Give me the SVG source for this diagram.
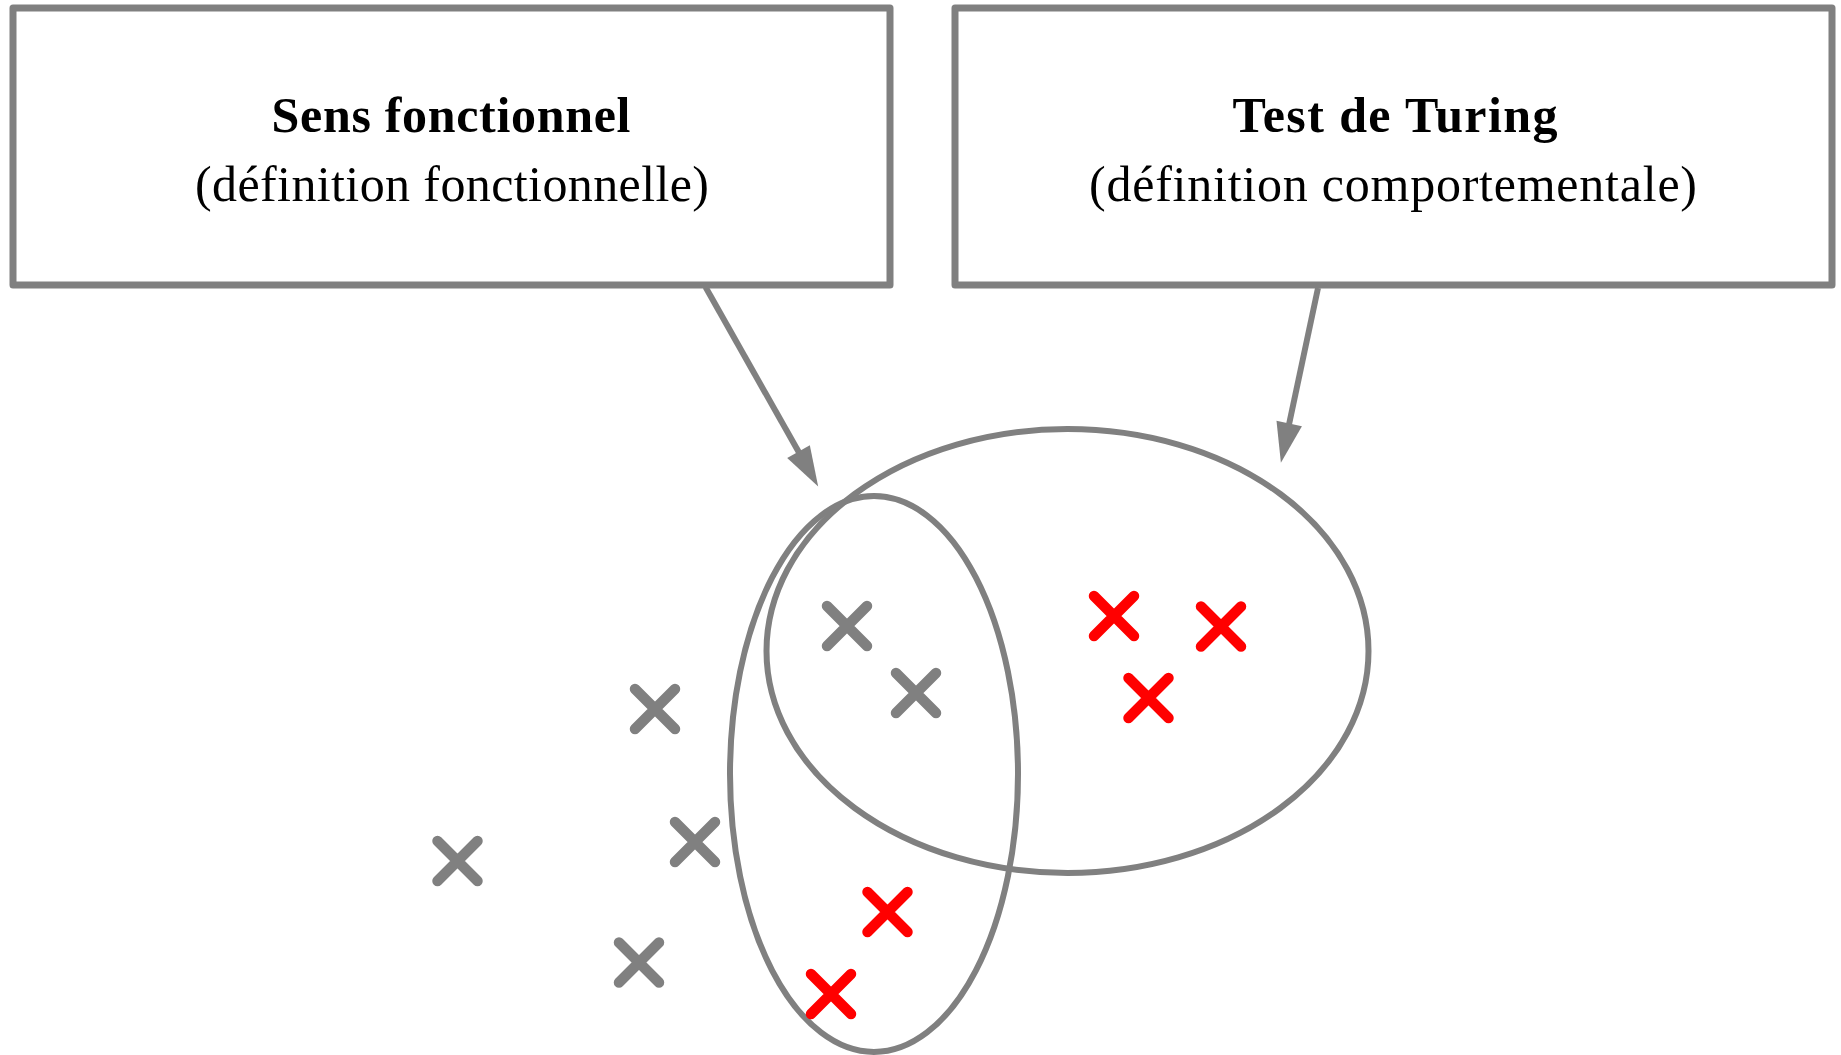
<svg xmlns="http://www.w3.org/2000/svg" width="1841" height="1055" viewBox="0 0 1841 1055">
<style>
.box{fill:#ffffff;stroke:#808080;stroke-width:7;stroke-linejoin:round}
.title{font-family:"Liberation Serif","DejaVu Serif",serif;font-size:50px;font-weight:bold;fill:#000;text-anchor:middle}
.sub{font-family:"Liberation Serif","DejaVu Serif",serif;font-size:50px;fill:#000;text-anchor:middle}
.set{fill:none;stroke:#808080;stroke-width:6}
.conn{stroke:#808080;stroke-width:6;fill:none}
.xg{stroke:#808080;stroke-width:10.5;fill:none;stroke-linecap:round}
.xr{stroke:#ff0000;stroke-width:10.5;fill:none;stroke-linecap:round}
</style>
<defs>
<marker id="ah" markerUnits="userSpaceOnUse" markerWidth="42" markerHeight="30" viewBox="0 0 42 30" refX="1" refY="15" orient="auto" overflow="visible">
<path d="M0,2 L40,15 L0,28 Z" fill="#808080"/>
</marker>
<path id="cross" d="M-20,-20 L20,20 M-20,20 L20,-20"/>
</defs>
<rect width="1841" height="1055" fill="#ffffff"/>
<g id="node-sens">
<rect class="box" x="13" y="8" width="877" height="277"/>
<text class="title" x="451" y="132" textLength="359">Sens fonctionnel</text>
<text class="sub" x="452" y="201" textLength="514">(définition fonctionnelle)</text>
</g>
<g id="node-turing">
<rect class="box" x="955" y="8" width="877" height="277"/>
<text class="title" x="1395" y="132" textLength="325">Test de Turing</text>
<text class="sub" x="1393" y="201" textLength="608">(définition comportementale)</text>
</g>
<g id="set-turing">
<ellipse class="set" cx="1067.5" cy="651" rx="301" ry="222"/>
</g>
<g id="set-sens">
<ellipse class="set" cx="874" cy="774" rx="144" ry="278"/>
</g>
<g id="connectors">
<line class="conn" x1="705.5" y1="287" x2="799" y2="452.5" marker-end="url(#ah)"/>
<line class="conn" x1="1318" y1="288" x2="1289" y2="424.5" marker-end="url(#ah)"/>
</g>
<g id="points-gray">
<use href="#cross" class="xg" x="847" y="626"/>
<use href="#cross" class="xg" x="916" y="693"/>
<use href="#cross" class="xg" x="655" y="709"/>
<use href="#cross" class="xg" x="695" y="842"/>
<use href="#cross" class="xg" x="457.5" y="861"/>
<use href="#cross" class="xg" x="639" y="962.5"/>
</g>
<g id="points-red">
<use href="#cross" class="xr" x="1114" y="616"/>
<use href="#cross" class="xr" x="1221" y="626.5"/>
<use href="#cross" class="xr" x="1148.5" y="698"/>
<use href="#cross" class="xr" x="887.5" y="912"/>
<use href="#cross" class="xr" x="831" y="994"/>
</g>
</svg>
